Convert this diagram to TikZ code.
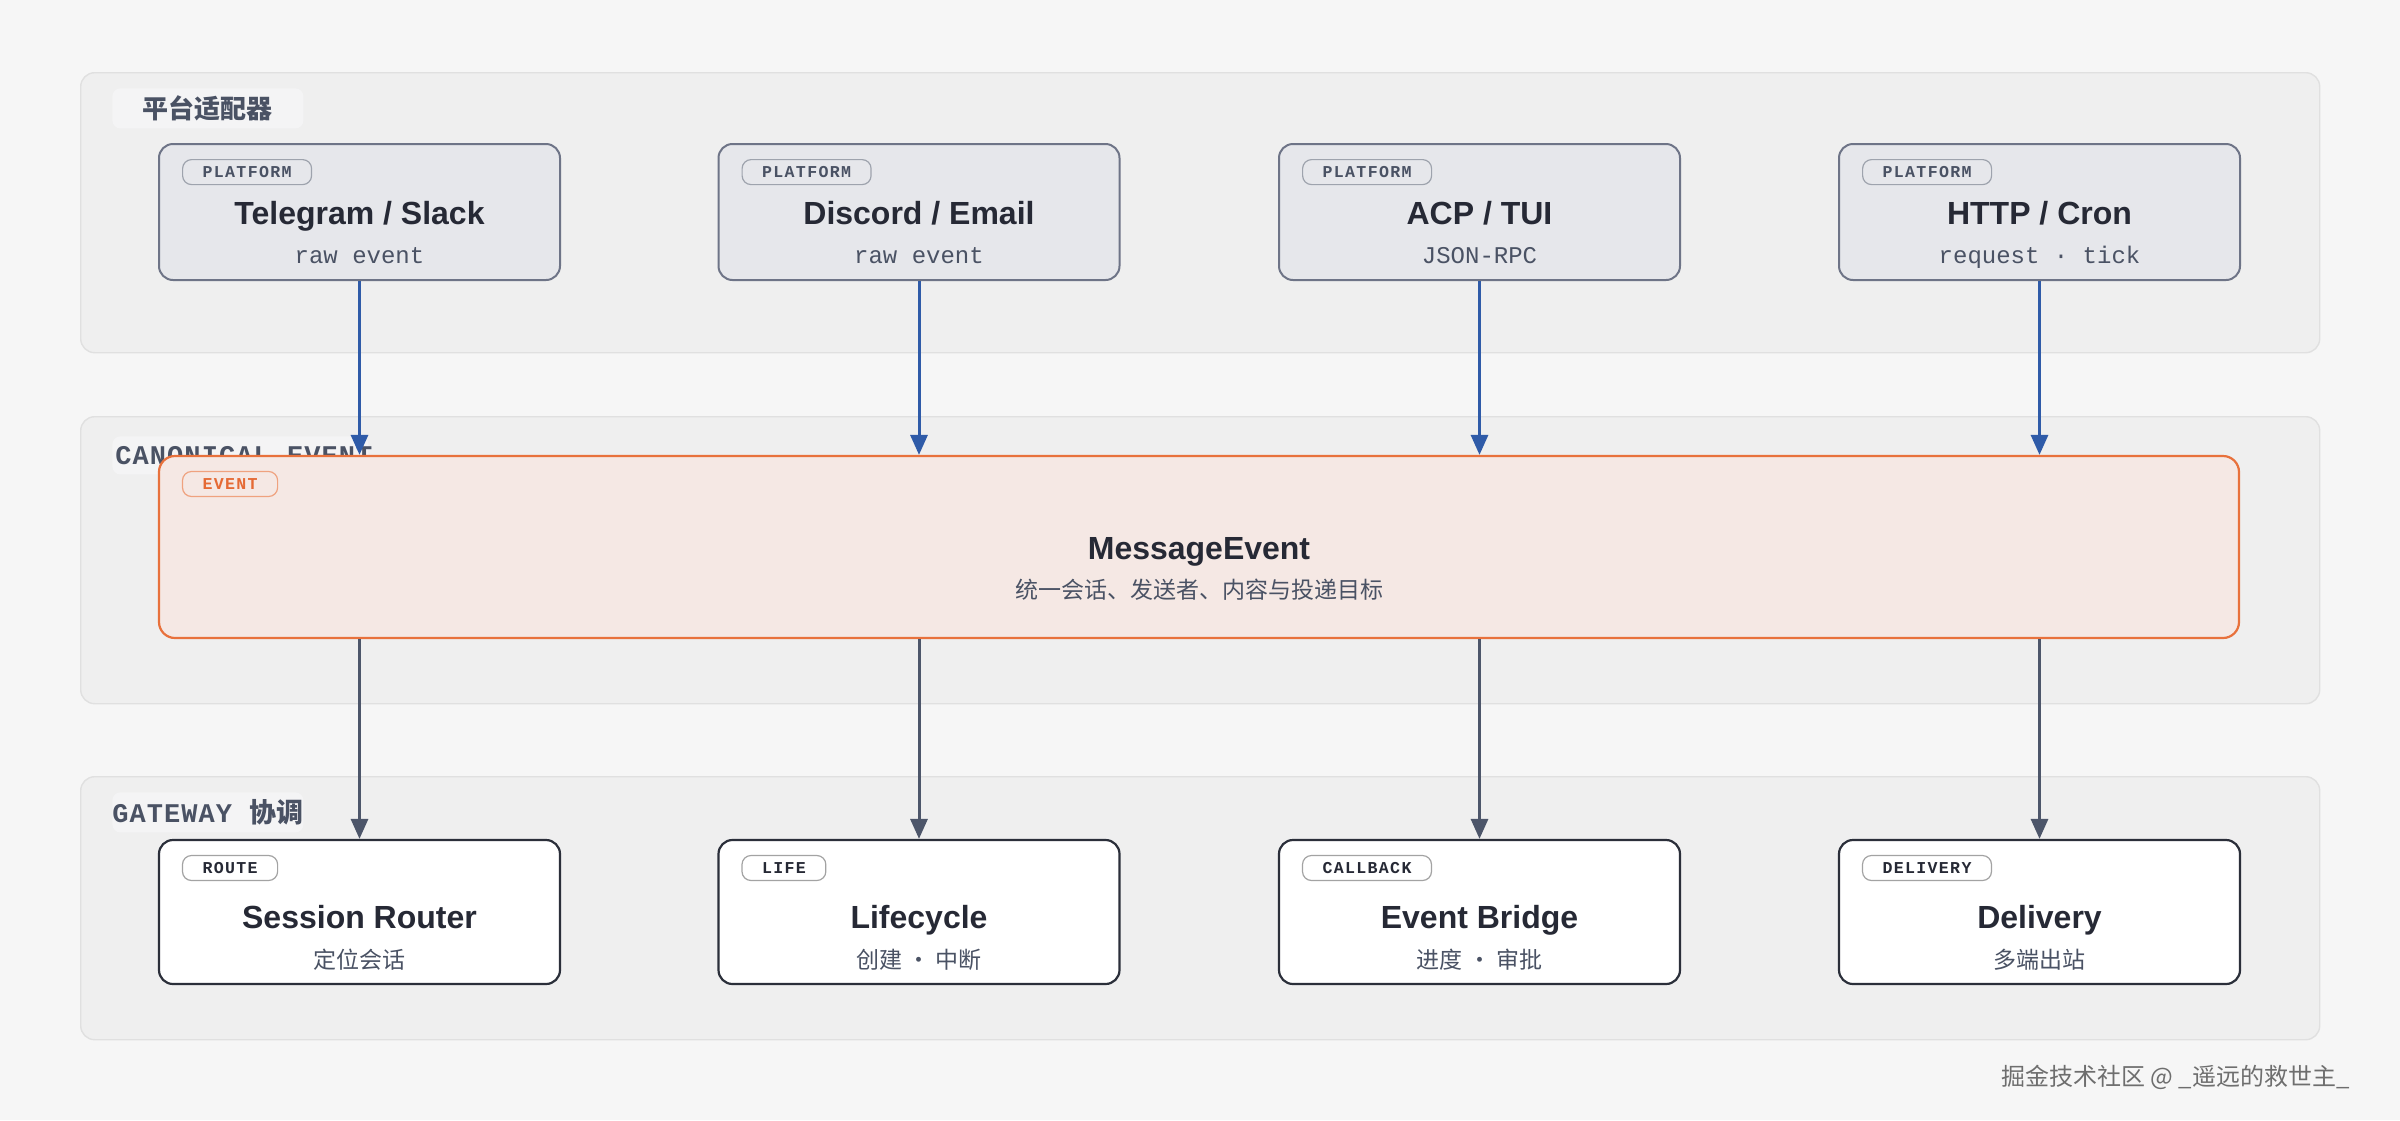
\documentclass[tikz,border=0pt]{standalone}
\usepackage{fontspec}
\setmainfont{Liberation Sans}
\newfontfamily\cjk{Noto Sans CJK SC}
\newfontfamily\monof{Liberation Mono}
\newfontfamily\pillf[LetterSpace=8]{Liberation Mono}
\newfontfamily\lblf[LetterSpace=4]{Liberation Mono}
\usetikzlibrary{calc,arrows.meta}
\definecolor{pagebg}{HTML}{F6F6F6}
\definecolor{panelfill}{HTML}{EFEFEF}
\definecolor{panelborder}{HTML}{E0E0E0}
\definecolor{lblfill}{HTML}{F4F4F5}
\definecolor{platfill}{HTML}{E6E7EB}
\definecolor{platborder}{HTML}{6E7487}
\definecolor{pillborder}{HTML}{9EA3AD}
\definecolor{darktext}{HTML}{262935}
\definecolor{slatetext}{HTML}{4A5264}
\definecolor{evfill}{HTML}{F5E8E4}
\definecolor{evborder}{HTML}{E8713C}
\definecolor{evpilltext}{HTML}{E56A35}
\definecolor{evpillborder}{HTML}{EFA27F}
\definecolor{gwborder}{HTML}{2B2F3A}
\definecolor{gwpillborder}{HTML}{A3A3A3}
\definecolor{bluearrow}{HTML}{2F5BA8}
\definecolor{grayarrow}{HTML}{4D566A}
\definecolor{wmark}{HTML}{6E6E6E}
\tikzset{
  panel/.style={draw=panelborder, fill=panelfill, rounded corners=7pt, line width=0.7pt, anchor=north west, inner sep=0pt},
  lblbg/.style={fill=lblfill, rounded corners=4pt, anchor=north west, inner sep=0pt},
  lbltext/.style={text=slatetext, inner sep=0pt, font=\lblf\bfseries\fontsize{13.5}{16}\selectfont},
  platbox/.style={draw=platborder, fill=platfill, rounded corners=7pt, line width=1pt, minimum width=200.5pt, minimum height=68pt, inner sep=0pt},
  evbox/.style={draw=evborder, fill=evfill, rounded corners=8pt, line width=1.1pt, minimum width=1040pt, minimum height=91pt, inner sep=0pt},
  gwbox/.style={draw=gwborder, fill=white, rounded corners=7pt, line width=1.1pt, minimum width=200.5pt, minimum height=72pt, inner sep=0pt},
  pillbase/.style={rounded corners=4.5pt, line width=0.6pt, minimum height=12.5pt, inner xsep=10pt, inner ysep=0pt, anchor=north west, font=\pillf\bfseries\fontsize{8.3}{9}\selectfont},
  platpill/.style={pillbase, draw=pillborder, fill=platfill, text=slatetext},
  evpill/.style={pillbase, draw=evpillborder, fill=evfill, text=evpilltext},
  gwpill/.style={pillbase, draw=gwpillborder, fill=white, text=darktext},
  title/.style={text=darktext, inner sep=0pt, anchor=base, font=\bfseries\fontsize{16}{19}\selectfont},
  monosub/.style={text=slatetext, inner sep=0pt, anchor=base, font=\monof\fontsize{12}{14}\selectfont},
  cjksub/.style={text=slatetext, inner sep=0pt, anchor=base, font=\cjk\fontsize{11.5}{14}\selectfont},
  barrow/.style={draw=bluearrow, line width=1.5pt, -{Triangle[width=8.5pt,length=10pt]}},
  garrow/.style={draw=grayarrow, line width=1.5pt, -{Triangle[width=8.5pt,length=10pt]}},
}
\begin{document}
\begin{tikzpicture}[x=0.5pt,y=-0.5pt]
\useasboundingbox (0,0) rectangle (2400,1120);
\fill[pagebg] (0,0) rectangle (2400,1120);

% panels
\node[panel, minimum width=1119.5pt, minimum height=140pt] (P1) at (80,72) {};
\node[panel, minimum width=1119.5pt, minimum height=143.5pt] (P2) at (80,416) {};
\node[panel, minimum width=1119.5pt, minimum height=131.5pt] (P3) at (80,776) {};

% panel labels
\node[lblbg, minimum width=95.5pt, minimum height=20pt] (L1bg) at (112,88) {};
\node[text=slatetext, inner sep=0pt, font=\cjk\bfseries\fontsize{13}{16}\selectfont] (L1) at (L1bg.center) {平台适配器};
\node[lblbg, minimum width=128pt, minimum height=19pt] (L2bg) at (112,436) {};
\node[lbltext, anchor=west] (L2) at (115,456) {CANONICAL EVENT};
\node[lblbg, minimum width=95.5pt, minimum height=20pt] (L3bg) at (112,792) {};
\node[lbltext] (L3) at (L3bg.center) {GATEWAY {\cjk\bfseries 协调}};

% platform boxes
\foreach \n/\cx/\t/\s in {p1/359.5/{Telegram / Slack}/{raw event}, p2/919/{Discord / Email}/{raw event}, p3/1479.5/{ACP / TUI}/{JSON-RPC}, p4/2039.5/{HTTP / Cron}/{request · tick}}{
  \node[platbox] (\n) at (\cx,212) {};
  \node[platpill] (\n pill) at ($(\n.north west)+(24,16)$) {PLATFORM};
  \node[title] (\n title) at ($(\n.center)+(0,12)$) {\t};
  \node[monosub] (\n sub) at ($(\n.center)+(0,51)$) {\s};
}

% event box
\node[evbox] (ev) at (1199,547) {};
\node[evpill] (evpill) at ($(ev.north west)+(24,16)$) {EVENT};
\node[title] (evtitle) at ($(ev.center)+(0,12.5)$) {MessageEvent};
\node[cjksub] (evsub) at ($(ev.center)+(0,51)$) {统一会话、发送者、内容与投递目标};

% gateway boxes
\node[gwbox] (g1) at (359.5,912) {};
\node[gwpill] (g1pill) at ($(g1.north west)+(24,16)$) {ROUTE};
\node[title] (g1title) at ($(g1.center)+(0,16.5)$) {Session Router};
\node[cjksub] (g1sub) at ($(g1.center)+(0,56)$) {定位会话};

\node[gwbox] (g2) at (919,912) {};
\node[gwpill] (g2pill) at ($(g2.north west)+(24,16)$) {LIFE};
\node[title] (g2title) at ($(g2.center)+(0,16.5)$) {Lifecycle};
\node[cjksub] (g2sub) at ($(g2.center)+(0,56)$) {创建 · 中断};

\node[gwbox] (g3) at (1479.5,912) {};
\node[gwpill] (g3pill) at ($(g3.north west)+(24,16)$) {CALLBACK};
\node[title] (g3title) at ($(g3.center)+(0,16.5)$) {Event Bridge};
\node[cjksub] (g3sub) at ($(g3.center)+(0,56)$) {进度 · 审批};

\node[gwbox] (g4) at (2039.5,912) {};
\node[gwpill] (g4pill) at ($(g4.north west)+(24,16)$) {DELIVERY};
\node[title] (g4title) at ($(g4.center)+(0,16.5)$) {Delivery};
\node[cjksub] (g4sub) at ($(g4.center)+(0,56)$) {多端出站};

% arrows
\foreach \n in {p1,p2,p3,p4}{
  \draw[barrow] (\n.south) -- (\n.south |- ev.north);
}
\foreach \n in {g1,g2,g3,g4}{
  \draw[garrow] (\n.north |- ev.south) -- (\n.north);
}

% watermark
\node[text=wmark, inner sep=0pt, anchor=east, font=\cjk\fontsize{12}{15}\selectfont] (wm) at (2350,1077) {掘金技术社区 @ \_遥远的救世主\_};
\end{tikzpicture}
\end{document}
